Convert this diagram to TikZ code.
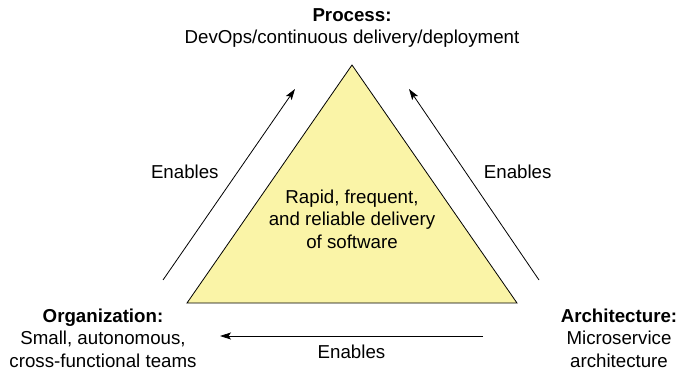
\documentclass[tikz,border=0pt]{standalone}
\usepackage{fontspec}
\setmainfont{Liberation Sans}
\usetikzlibrary{positioning,calc,arrows.meta}
\definecolor{pyramid}{RGB}{250,244,167}

\begin{document}
\begin{tikzpicture}[x=1pt,y=1pt,
	txt/.style={inner sep=0,align=center,font=\fontsize{18.7}{22.5}\selectfont},
	enable/.style={-{Stealth[length=11pt,width=7pt,inset=2.5pt]},line width=0.8pt}]
\useasboundingbox (0,0) rectangle (677,375);
\coordinate (top) at (352,310);
\coordinate (bl) at (187,72);
\coordinate (br) at (517,72);
\draw[fill=pyramid,line width=0.8pt] (bl) -- (br) -- (top) -- cycle;

\node [txt,above=17pt of top] (process) {\textbf{Process:}\\DevOps/continuous delivery/deployment};
\node [txt,anchor=north] (goal) at (352,185.6) {Rapid, frequent,\\and reliable delivery\\of software};
\node [txt,anchor=north] (org) at ($(bl)+(-84,-5.5)$) {\textbf{Organization:}\\Small, autonomous,\\cross-functional teams};
\node [txt,anchor=north] (arch) at ($(br)+(102,-5.5)$) {\textbf{Architecture:}\\Microservice\\architecture};

% arrow ends
\coordinate (l0) at (163,95);
\coordinate (l1) at (295,286);
\coordinate (r0) at (539,95);
\coordinate (r1) at (409,286);
\coordinate (b0) at (483,39);
\coordinate (b1) at (220,39);

\draw[enable] (l0) -- (l1) node [txt,midway,above left=5.5pt and 10pt] (en1) {Enables};
\draw[enable] (r0) -- (r1) node [txt,midway,above right=5.5pt and 9.5pt] (en2) {Enables};
\draw[enable] (b0) -- (b1) node [txt,midway,below=8.5pt] (en3) {Enables};
\end{tikzpicture}
\end{document}
